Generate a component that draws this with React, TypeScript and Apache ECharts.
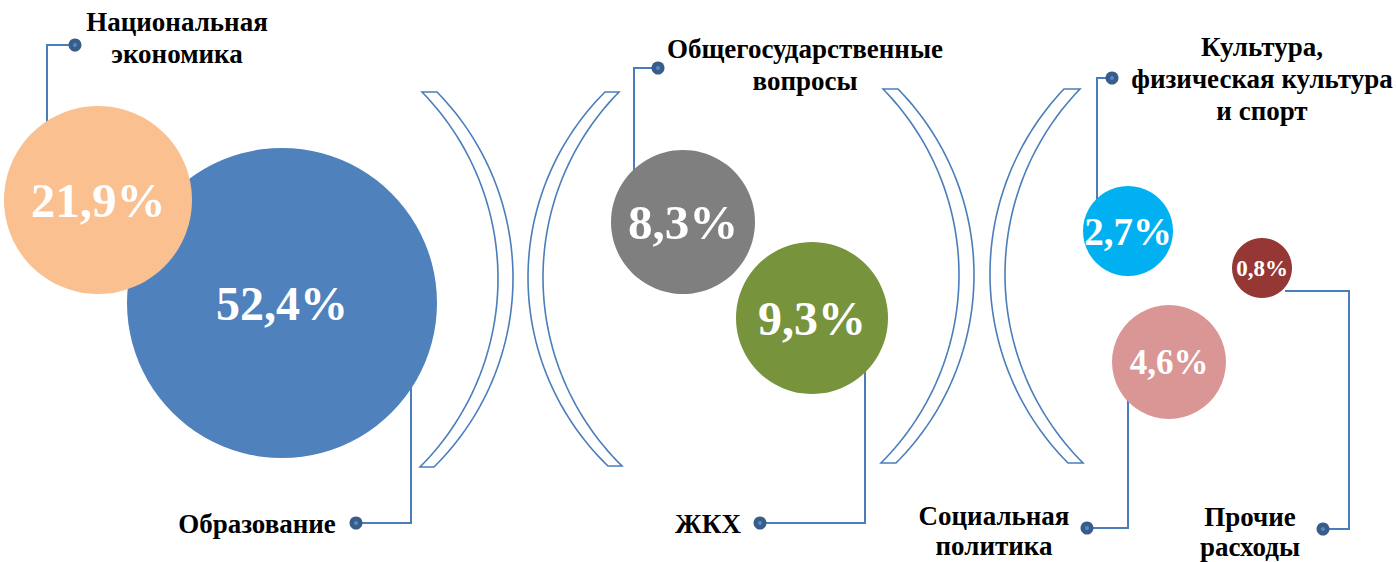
import React, { useEffect, useRef } from "react";
import * as echarts from "echarts";

// ---- data (drawing order: back to front) ----
const categories = [
  "Образование",
  "Национальная\nэкономика",
  "Общегосударственные\nвопросы",
  "ЖКХ",
  "Культура,\nфизическая культура\nи спорт",
  "Прочие\nрасходы",
  "Социальная\nполитика",
];
const shares = [52.4, 21.9, 8.3, 9.3, 2.7, 0.8, 4.6];

// ---- layout / styles (kept apart from data) ----
const colors = ["#4F81BD", "#FAC090", "#7F7F7F", "#77933C", "#00B0F0", "#953735", "#D99694"];
const bubbleLayout = [
  { x: 282, y: 303, d: 310, fs: 48 },
  { x: 98, y: 200, d: 188, fs: 49 },
  { x: 683, y: 222, d: 144, fs: 49 },
  { x: 812, y: 318, d: 152, fs: 48 },
  { x: 1128, y: 231, d: 90, fs: 39 },
  { x: 1262, y: 268, d: 60, fs: 23 },
  { x: 1169, y: 362, d: 114, fs: 35 },
];
const nameLayout = [
  { x: 257, y: 524, lh: 32 },
  { x: 177, y: 38, lh: 32 },
  { x: 805, y: 65, lh: 32 },
  { x: 708, y: 524, lh: 32 },
  { x: 1262, y: 79, lh: 32 },
  { x: 1250, y: 532, lh: 30 },
  { x: 994, y: 531, lh: 30 },
];
const connectors = [
  [[356, 523], [411, 523], [411, 385]],
  [[75, 45], [47, 45], [47, 125]],
  [[658, 68], [634, 68], [634, 172]],
  [[760, 523], [865, 523], [865, 368]],
  [[1112, 78], [1097, 78], [1097, 203]],
  [[1323, 529], [1349, 529], [1349, 291], [1285, 291]],
  [[1087, 528], [1128, 528], [1128, 400]],
];
// brackets: [top, mid, bottom] for each of the two arcs
const brackets = [
  { a: [[422, 92], [498, 279], [420, 467]], b: [[437, 92], [513, 279], [434, 467]] },
  { a: [[605, 92], [528, 279], [608, 466]], b: [[619, 92], [543, 279], [622, 466]] },
  { a: [[883, 89], [959, 276], [881, 463]], b: [[898, 89], [974, 276], [896, 463]] },
  { a: [[1064, 89], [990, 276], [1068, 463]], b: [[1080, 89], [1005, 276], [1083, 463]] },
];

const FONT = "Liberation Serif, serif";
const LINE = "#4A7EBB";

function arcPoints(p1: number[], p2: number[], p3: number[], n = 60): number[][] {
  const [x1, y1] = p1, [x2, y2] = p2, [x3, y3] = p3;
  const d = 2 * (x1 * (y2 - y3) + x2 * (y3 - y1) + x3 * (y1 - y2));
  const s1 = x1 * x1 + y1 * y1, s2 = x2 * x2 + y2 * y2, s3 = x3 * x3 + y3 * y3;
  const cx = (s1 * (y2 - y3) + s2 * (y3 - y1) + s3 * (y1 - y2)) / d;
  const cy = (s1 * (x3 - x2) + s2 * (x1 - x3) + s3 * (x2 - x1)) / d;
  const r = Math.hypot(x1 - cx, y1 - cy);
  const a1 = Math.atan2(y1 - cy, x1 - cx);
  const a3 = Math.atan2(y3 - cy, x3 - cx);
  const a2 = Math.atan2(y2 - cy, x2 - cx);
  const norm = (a: number) => { while (a < 0) a += Math.PI * 2; while (a >= Math.PI * 2) a -= Math.PI * 2; return a; };
  const ccwSpan = norm(a3 - a1);
  const ccwMid = norm(a2 - a1);
  const span = ccwMid <= ccwSpan ? ccwSpan : ccwSpan - Math.PI * 2;
  const pts: number[][] = [];
  for (let i = 0; i <= n; i++) {
    const a = a1 + (span * i) / n;
    pts.push([cx + r * Math.cos(a), cy + r * Math.sin(a)]);
  }
  return pts;
}

export default function App() {
  const ref = useRef<HTMLDivElement>(null);
  useEffect(() => {
    document.body.style.margin = "0";
    if (!ref.current) return;
    const chart = echarts.init(ref.current, null, { renderer: "svg" });

    const graphics: any[] = [];
    brackets.forEach((br) => {
      const left = arcPoints(br.a[0], br.a[1], br.a[2]);
      const right = arcPoints(br.b[0], br.b[1], br.b[2]).reverse();
      graphics.push({
        type: "polygon",
        shape: { points: left.concat(right) },
        style: { fill: "#ffffff", stroke: LINE, lineWidth: 1.6 },
        z: 1,
      });
    });
    connectors.forEach((pts) => {
      graphics.push({
        type: "polyline",
        shape: { points: pts },
        style: { stroke: LINE, lineWidth: 2, fill: null },
        z: 1,
      });
      graphics.push({
        type: "circle",
        shape: { cx: pts[0][0], cy: pts[0][1], r: 6.5 },
        style: { fill: "#385D8A" },
        z: 2,
      });
      graphics.push({
        type: "circle",
        shape: { cx: pts[0][0], cy: pts[0][1], r: 2 },
        style: { fill: "#5A86C2" },
        z: 3,
      });
    });
    categories.forEach((name, i) => {
      graphics.push({
        type: "text",
        x: nameLayout[i].x,
        y: nameLayout[i].y,
        style: {
          text: name,
          fill: "#000000",
          fontFamily: FONT,
          fontWeight: "bold",
          fontSize: 27,
          align: "center",
          verticalAlign: "middle",
          lineHeight: nameLayout[i].lh,
        },
        z: 5,
      });
    });

    chart.setOption({
      animation: false,
      grid: { left: 0, right: 0, top: 0, bottom: 0 },
      xAxis: { type: "value", min: 0, max: 1396, show: false },
      yAxis: { type: "value", min: 0, max: 562, inverse: true, show: false },
      graphic: { elements: graphics },
      series: [
        {
          type: "scatter",
          z: 3,
          silent: true,
          data: shares.map((v, i) => ({
            value: [bubbleLayout[i].x, bubbleLayout[i].y, v],
            symbolSize: bubbleLayout[i].d,
            itemStyle: { color: colors[i], opacity: 1 },
            label: {
              show: true,
              position: "inside",
              formatter: v.toFixed(1).replace(".", ",") + "%",
              color: "#ffffff",
              fontFamily: FONT,
              fontWeight: "bold",
              fontSize: bubbleLayout[i].fs,
            },
          })),
        },
      ],
    });
    return () => chart.dispose();
  }, []);
  return <div ref={ref} style={{ width: 1396, height: 562 }} />;
}
